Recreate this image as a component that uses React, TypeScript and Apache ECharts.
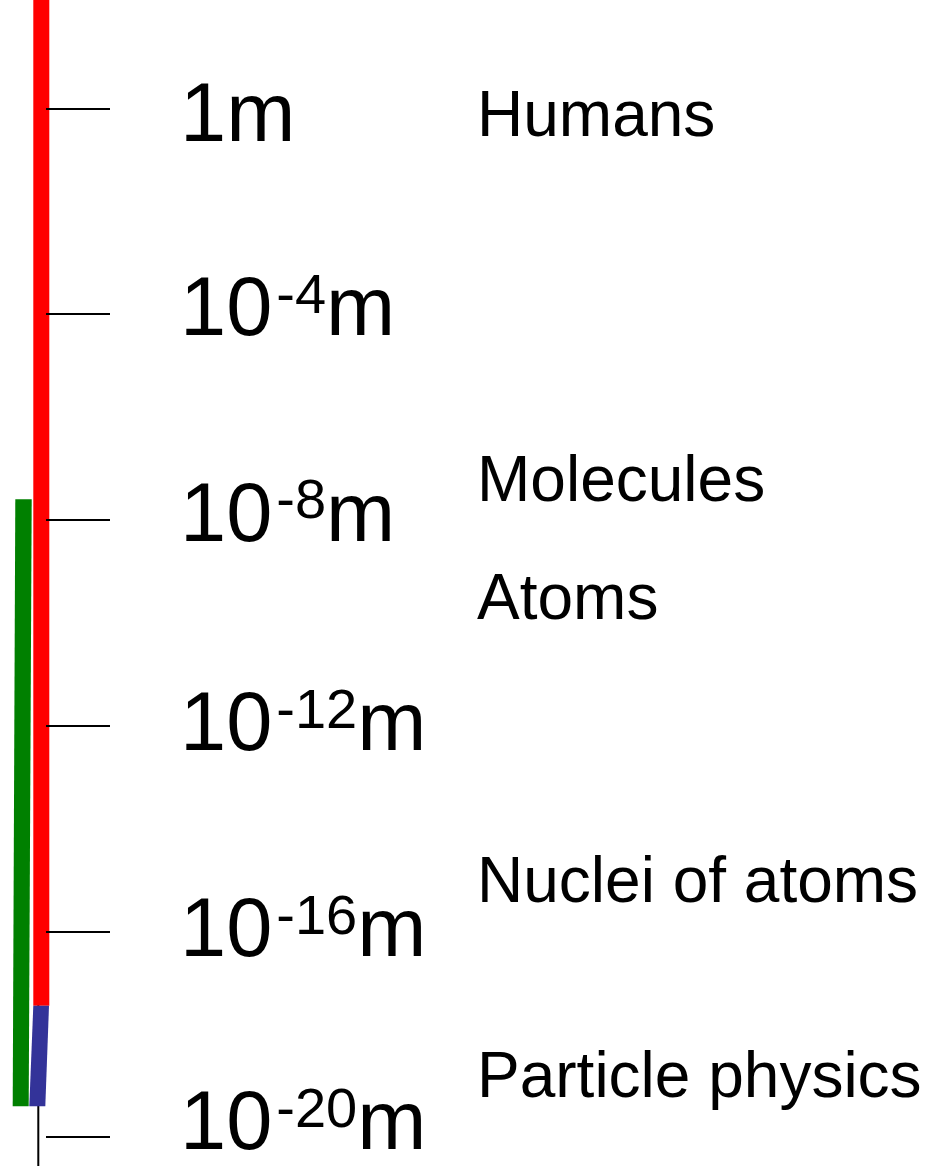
import { useEffect, useRef } from "react";
import * as echarts from "echarts";

// Scale ticks (powers of ten, in metres)
const scaleTicks = [0, -4, -8, -12, -16, -20];

// Objects placed on the scale (log10 of size in metres)
const objectNames = ["Humans", "Molecules", "Atoms", "Nuclei of atoms", "Particle physics"];
const objectExponents = [0, -7.1, -9.4, -14.9, -18.7];

// Coloured ranges along the scale (log10 of metres)
const bandNames = ["classical", "quantum", "particle"];
const bandLow = [-17.45, -19.4, -19.4];
const bandHigh = [2.5, -7.6, -17.45];

const FONT = "'Liberation Sans', Arial, Helvetica, sans-serif";

// layout / style constants
const bandStyles = [
  { color: "#ff0000", topL: 33.3, topR: 49.3, botL: 33.3, botR: 49.3 },
  { color: "#008000", topL: 15.3, topR: 31.7, botL: 12.7, botR: 28.7 },
  { color: "#333399", topL: 33.3, topR: 49.0, botL: 29.3, botR: 45.3 },
];
const tickLabelNudge = [4, -7.5, -7.5, -4, -3.5, -16.5];

const tickRich = {
  b: { fontSize: 83, lineHeight: 83, fontFamily: FONT, fill: "#000", color: "#000", verticalAlign: "bottom" },
  s: {
    fontSize: 56,
    lineHeight: 50,
    fontFamily: FONT,
    fill: "#000",
    color: "#000",
    verticalAlign: "top",
    padding: [0, 0, 0, 4],
  },
};

function tickText(v: number): string {
  return v === 0 ? "{b|1m}" : `{b|10}{s|${v}}{b|m}`;
}

export default function App() {
  const ref = useRef<HTMLDivElement>(null);
  useEffect(() => {
    if (!ref.current) return;
    const chart = echarts.init(ref.current, null, { renderer: "svg" });
    const option: any = {
      animation: false,
      backgroundColor: "#ffffff",
      grid: { left: 46, right: 0, top: 108.5, bottom: 29, containLabel: false, outerBoundsMode: "none" },
      xAxis: { type: "value", min: 0, max: 1, show: false },
      yAxis: {
        type: "value",
        min: -20,
        max: 0,
        interval: 4,
        z: 10,
        axisLine: { show: false },
        splitLine: { show: false },
        axisTick: { show: true, inside: true, length: 64, lineStyle: { color: "#000", width: 2 } },
        axisLabel: { show: false },
      },
      series: [
        {
          type: "custom",
          name: "spine",
          z: 1,
          clip: false,
          silent: true,
          data: [[0, 0]],
          renderItem: (_params: any, api: any) => ({
            type: "line",
            shape: { x1: 38.3, y1: 0, x2: 38.3, y2: api.getHeight() },
            style: { stroke: "#000", lineWidth: 2 },
          }),
        },
        {
          type: "custom",
          name: "bands",
          z: 2,
          clip: false,
          data: bandLow.map((lo, i) => ({ name: bandNames[i], value: [lo, bandHigh[i]] })),
          renderItem: (params: any, api: any) => {
            const s = bandStyles[params.dataIndex];
            const yBot = api.coord([0, api.value(0)])[1];
            const yTop = api.coord([0, api.value(1)])[1];
            return {
              type: "polygon",
              shape: {
                points: [
                  [s.topL, yTop],
                  [s.topR, yTop],
                  [s.botR, yBot],
                  [s.botL, yBot],
                ],
              },
              style: { fill: s.color },
            };
          },
        },
        {
          type: "custom",
          name: "scaleLabels",
          z: 3,
          clip: false,
          data: scaleTicks.map((v) => [0, v]),
          renderItem: (params: any, api: any) => {
            const v = api.value(1);
            const y = api.coord([0, v])[1] + tickLabelNudge[params.dataIndex];
            return {
              type: "text",
              x: 180,
              y,
              style: {
                text: tickText(v),
                rich: tickRich,
                fontFamily: FONT,
                fill: "#000",
                align: "left",
                verticalAlign: "middle",
                textAlign: "left",
                textVerticalAlign: "middle",
              },
            };
          },
        },
        {
          type: "custom",
          name: "objects",
          z: 3,
          clip: false,
          data: objectExponents.map((v, i) => ({ name: objectNames[i], value: [0, v] })),
          renderItem: (params: any, api: any) => {
            const y = api.coord([0, api.value(1)])[1] + 5;
            return {
              type: "text",
              x: 477,
              y,
              style: {
                text: objectNames[params.dataIndex],
                fontSize: 64,
                fontFamily: FONT,
                fill: "#000",
                align: "left",
                verticalAlign: "middle",
                textAlign: "left",
                textVerticalAlign: "middle",
              },
            };
          },
        },
      ],
    };
    chart.setOption(option);
    return () => chart.dispose();
  }, []);
  return (
    <div
      ref={ref}
      style={{ position: "absolute", left: 0, top: 0, width: 930, height: 1166, background: "#fff" }}
    />
  );
}
